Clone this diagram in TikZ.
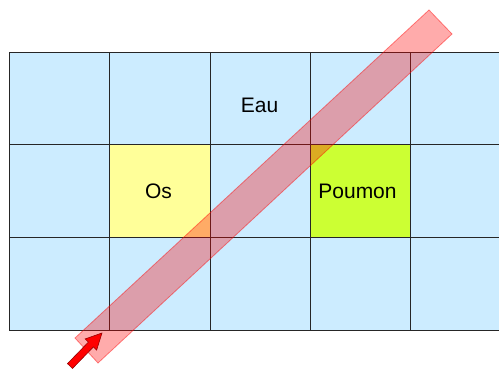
\documentclass[tikz,border=0pt]{standalone}
\usepackage{fontspec}
\setmainfont{Liberation Sans}
\definecolor{eaublue}{RGB}{204,236,255}
\definecolor{osyellow}{RGB}{255,255,153}
\definecolor{poumongreen}{RGB}{204,255,51}
\definecolor{arrowdark}{RGB}{150,0,0}
\begin{document}
\begin{tikzpicture}[x=1pt,y=-1pt,
  cell/.style={draw=black!85, line width=0.8pt, minimum width=100.1pt, minimum height=92.6pt, inner sep=0pt, anchor=north west, fill=eaublue},
  lbl/.style={font=\fontsize{21}{24}\selectfont, inner sep=0pt},
  beam/.style={fill=red, fill opacity=0.33, draw=red, draw opacity=0.45, line width=0.8pt},
  bigarrow/.style={fill=red, draw=arrowdark, line width=0.6pt, line join=miter}]
\useasboundingbox (0,0) rectangle (499,368);
\clip (0,0) rectangle (499,368);
% grid of cells
\foreach \c in {0,...,4}{
  \foreach \r in {0,1,2}{
    \node[cell] (c\c\r) at ({9.3+100.1*\c},{51.7+92.6*\r}) {};
  }
}
\node[cell, fill=osyellow] (os) at (109.4,144.3) {};
\node[cell, fill=poumongreen] (poumon) at (309.6,144.3) {};
% labels
\node[lbl] (eau) at (259.6,105.5) {Eau};
\node[lbl] (ostxt) at (158.5,191.5) {Os};
\node[lbl] (poumontxt) at (357.5,191.5) {Poumon};
% beam
\coordinate (bA) at (75,338);
\coordinate (bB) at (98,363);
\coordinate (bC) at (452,34);
\coordinate (bD) at (429,10);
\draw[beam] (bA) -- (bB) -- (bC) -- (bD) -- cycle;
% arrow
\coordinate (aT1) at (67.5,363.6);
\coordinate (aS1) at (88.4,342.1);
\coordinate (aW1) at (85.2,338.9);
\coordinate (aP) at (102,333);
\coordinate (aW2) at (96.6,350.1);
\coordinate (aS2) at (93.4,346.9);
\coordinate (aT2) at (72.5,368.4);
\draw[bigarrow] (aT1) -- (aS1) -- (aW1) -- (aP) -- (aW2) -- (aS2) -- (aT2) -- cycle;
\end{tikzpicture}
\end{document}
